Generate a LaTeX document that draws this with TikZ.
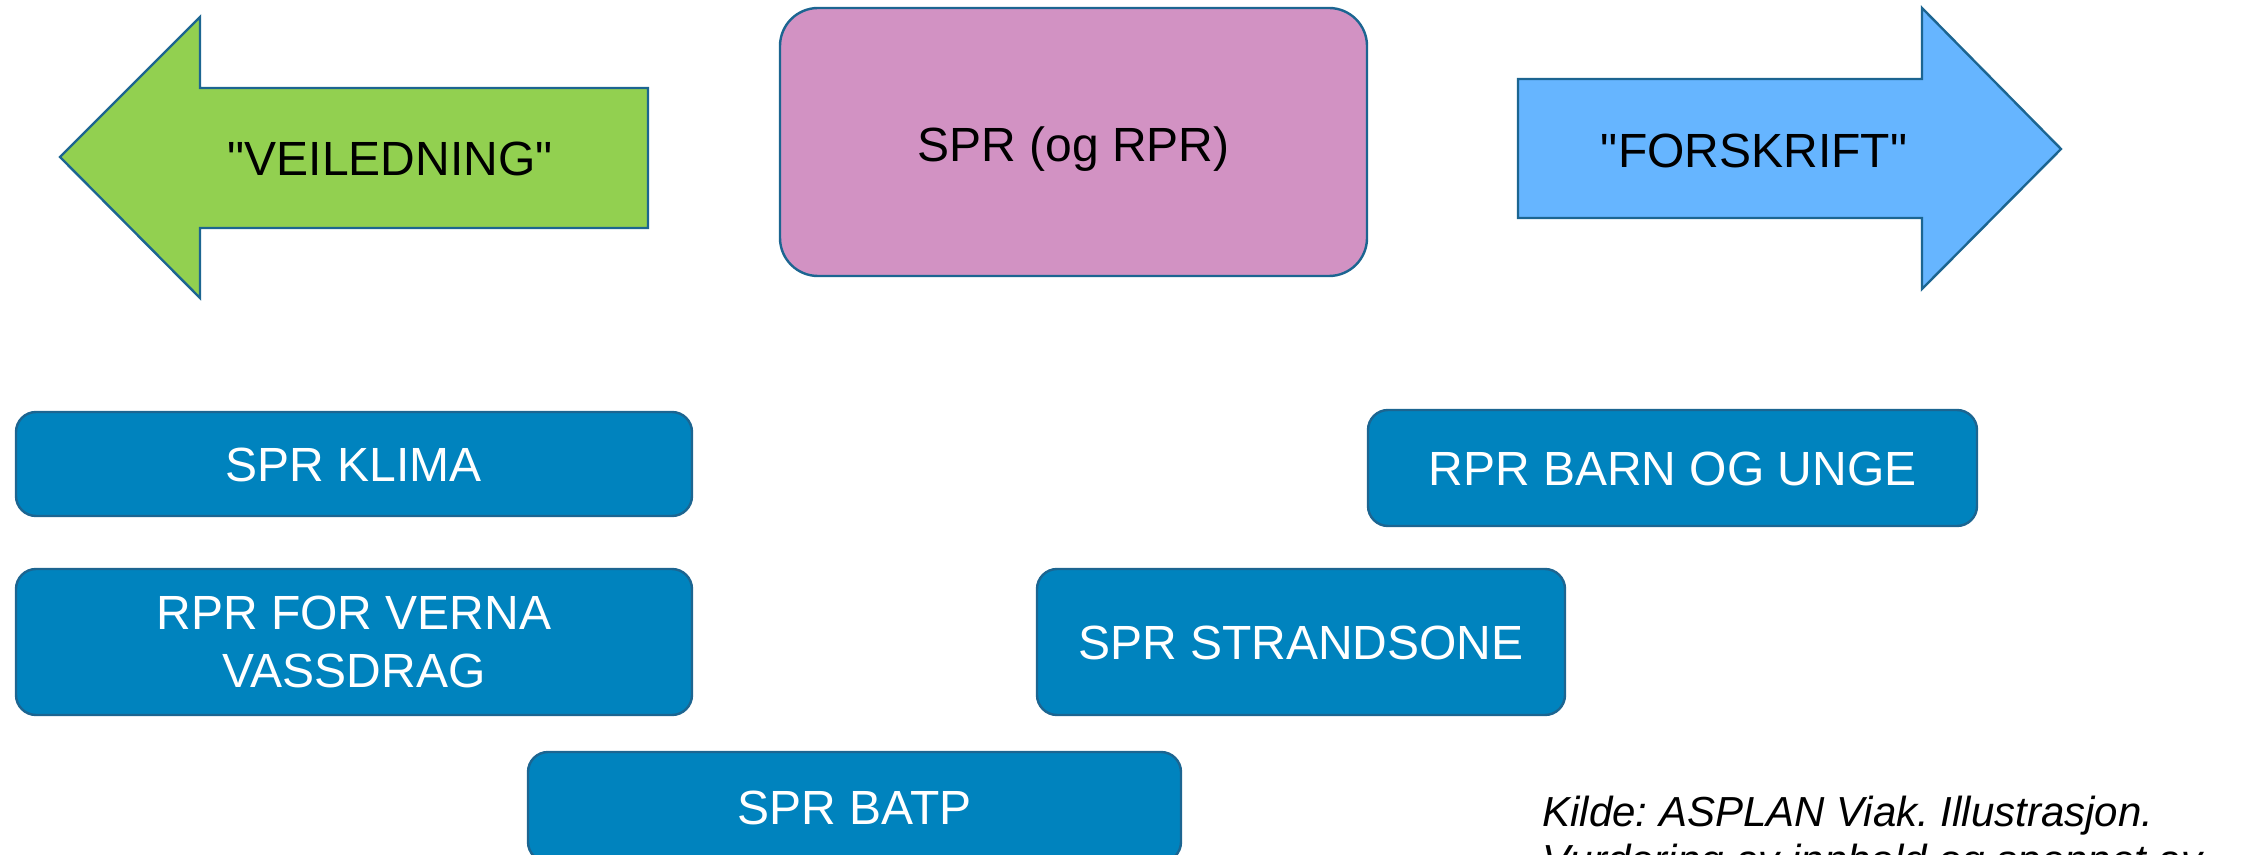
\documentclass[tikz,border=0pt]{standalone}
\usepackage{fontspec}
\setmainfont{Liberation Sans}
\font\plainquotefont="Liberation Sans" at 24pt
\newcommand\dq{{\plainquotefont\char34}}
\definecolor{edge}{HTML}{1C6591}
\definecolor{vgreen}{HTML}{92D050}
\definecolor{lblue}{HTML}{66B5FF}
\definecolor{pinkbox}{HTML}{D292C3}
\definecolor{boxblue}{HTML}{0083BE}
\begin{document}
\frenchspacing
\begin{tikzpicture}[x=0.5pt,y=-0.5pt,
  outl/.style={draw=edge, line width=1.2pt},
  mainfont/.style={font=\fontsize{24}{29}\selectfont},
  capcenter/.style={text height=17.2pt, text depth=0pt},
  bluebox/.style={outl, fill=boxblue, rounded corners=10pt, inner sep=0pt, text=white, mainfont, align=center},
  lbl/.style={mainfont, text=black, inner sep=0pt, capcenter},
  srctext/.style={font=\fontsize{21}{24}\selectfont\itshape, text=black, inner sep=0pt, anchor=base west},
]
\useasboundingbox (0,0) rectangle (2264,855);
\clip (0,0) rectangle (2264,855);
% left arrow
\draw[outl, fill=vgreen] (60,157) -- (200,17) -- (200,88) -- (648,88) -- (648,228) -- (200,228) -- (200,298) -- cycle;
\node[lbl] (veil) at (390,158) {\dq VEILEDNING\dq};
% right arrow
\draw[outl, fill=lblue] (1518,79) -- (1922,79) -- (1922,8) -- (2061,149) -- (1922,289) -- (1922,218) -- (1518,218) -- cycle;
\node[lbl] (forsk) at (1754,150) {\dq FORSKRIFT\dq};
% centre box
\node[outl, fill=pinkbox, rounded corners=19pt, inner sep=0pt, minimum width=293.5pt, minimum height=134pt, mainfont, text height=19.2pt, text depth=0pt] (spr) at (1073.5,142) {SPR (og RPR)};
% blue boxes
\node[bluebox, capcenter, minimum width=338pt, minimum height=52pt] (klima) at (354,464) {SPR KLIMA};
\node[bluebox, minimum width=338pt, minimum height=73pt] (verna) at (354,642) {RPR FOR VERNA\\VASSDRAG};
\node[bluebox, capcenter, minimum width=304.5pt, minimum height=58pt] (barn) at (1672.5,468) {RPR BARN OG UNGE};
\node[bluebox, capcenter, minimum width=264pt, minimum height=73pt] (strand) at (1301,642) {SPR STRANDSONE};
\node[bluebox, capcenter, minimum width=326.5pt, minimum height=55pt] (batp) at (854.5,807) {SPR BATP};
% source
\node[srctext] (src1) at (1542,826) {Kilde: ASPLAN Viak. Illustrasjon.};
\node[srctext] (src2) at (1542,874) {Vurdering av innhold og spennet av};
\end{tikzpicture}
\end{document}
